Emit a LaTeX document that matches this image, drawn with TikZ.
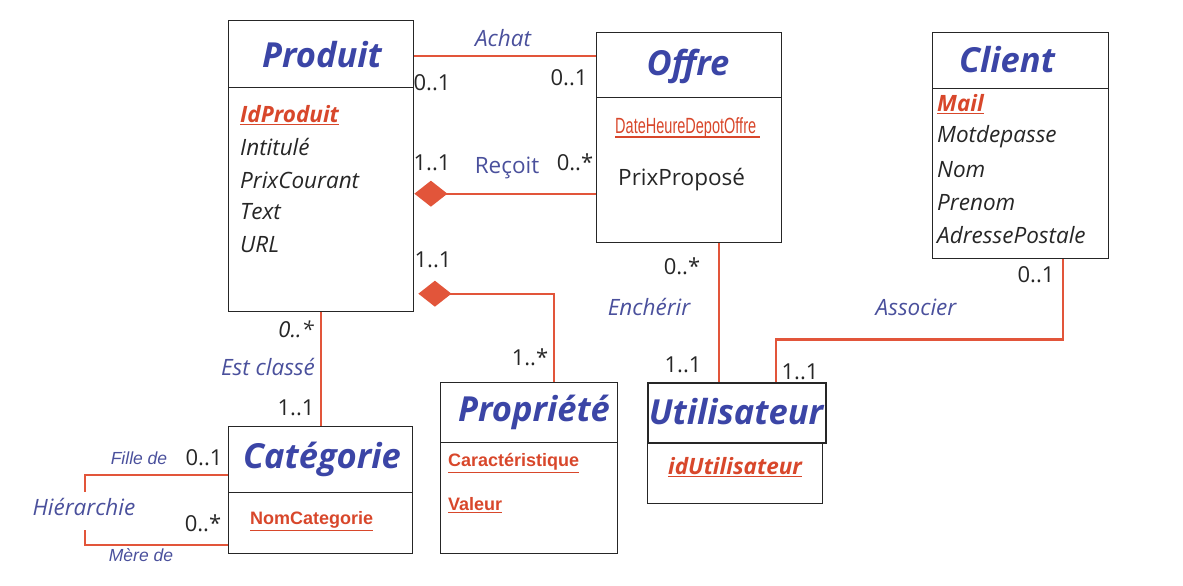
\documentclass[tikz,border=0pt]{standalone}
\usepackage{fontspec}
\setmainfont{Open Sans}
\newfontfamily\arialf{Liberation Sans}
\newfontfamily\narrowf[FakeStretch=0.66]{Liberation Sans}
\usetikzlibrary{arrows.meta}
\definecolor{tblue}{HTML}{3B45A6}
\definecolor{lblue}{HTML}{4A509C}
\definecolor{ared}{HTML}{D8472B}
\definecolor{lred}{HTML}{E2553A}
\newcommand\myThickUl[1]{\setbox0\hbox{#1}\rlap{\raisebox{-4pt}{\rule{\wd0}{1.8pt}}}\box0}
\tikzset{
  cbox/.style={draw=black!85, line width=1.4pt, inner sep=0pt, anchor=north west},
  ttl/.style={font=\fontsize{34.5}{40}\selectfont\bfseries\itshape, text=tblue, inner sep=0pt},
  attr/.style={font=\fontsize{22.5}{26}\selectfont\itshape, text=black!85, anchor=west, inner sep=0pt},
  keyattr/.style={font=\fontsize{22.5}{26}\selectfont\bfseries\itshape, text=ared, anchor=west, inner sep=0pt},
  arialkey/.style={font=\arialf\fontsize{18}{21}\selectfont\bfseries, text=ared, anchor=west, inner sep=0pt},
  rel/.style={draw=lred, line width=2.2pt},
  mult/.style={font=\fontsize{22}{26}\selectfont, text=black!85, inner sep=0pt},
  lab/.style={font=\fontsize{22.5}{26}\selectfont\itshape, text=lblue, inner sep=0pt},
  smalllab/.style={font=\arialf\fontsize{17.5}{20}\selectfont\itshape, text=lblue, inner sep=0pt},
  dia/.style={{Diamond[length=33pt,width=26pt]}-},
}
\begin{document}
\begin{tikzpicture}[x=1pt,y=-1pt]
\useasboundingbox (0,0) rectangle (1183,586);
% ---------- boxes ----------
\node[cbox, minimum width=185pt, minimum height=67pt] (prodH) at (228,20) {};
\node[cbox, minimum width=185pt, minimum height=224pt] (prodB) at (228,87) {};
\node[cbox, minimum width=185pt, minimum height=65pt] (offH) at (596,32) {};
\node[cbox, minimum width=185pt, minimum height=145pt] (offB) at (596,97) {};
\node[cbox, minimum width=176pt, minimum height=56pt] (cliH) at (932,32) {};
\node[cbox, minimum width=176pt, minimum height=170pt] (cliB) at (932,88) {};
\node[cbox, minimum width=184pt, minimum height=66pt] (catH) at (228,426) {};
\node[cbox, minimum width=184pt, minimum height=61pt] (catB) at (228,492) {};
\node[cbox, minimum width=177pt, minimum height=60pt] (propH) at (440,382) {};
\node[cbox, minimum width=177pt, minimum height=111pt] (propB) at (440,442) {};
\node[cbox, minimum width=175pt, minimum height=61pt] (utiB) at (647,442) {};
\node[cbox, line width=2.2pt, minimum width=178pt, minimum height=60pt] (utiH) at (647,382) {};
% ---------- titles ----------
\node[ttl] (tProd) at (322,55) {Produit};
\node[ttl] (tOff) at (688,66) {Offre};
\node[ttl] (tCli) at (1007,60) {Client};
\node[ttl] (tCat) at (322,459) {Catégorie};
\node[ttl] (tProp) at (534,412) {Propriété};
\node[ttl] (tUti) at (736,412) {Utilisateur};
% ---------- attributes ----------
\node[keyattr] (pa1) at (240,115) {\underline{IdProduit}};
\node[attr] (pa2) at (240,147) {Intitulé};
\node[attr] (pa3) at (240,180) {PrixCourant};
\node[attr] (pa4) at (240,212) {Text};
\node[attr] (pa5) at (240,245) {URL};
\node[font=\narrowf\fontsize{22}{26}\selectfont, text=ared, anchor=west, inner sep=0pt] (oa1) at (615,128) {\myThickUl{DateHeureDepotOffre\,}};
\node[font=\fontsize{22.5}{26}\selectfont, text=black!85, anchor=west, inner sep=0pt] (oa2) at (618,180) {PrixProposé};
\node[keyattr] (ca1) at (937,104) {\underline{Mail}};
\node[attr] (ca2) at (937,137) {Motdepasse};
\node[attr] (ca3) at (937,170) {Nom};
\node[attr] (ca4) at (937,203) {Prenom};
\node[attr] (ca5) at (937,235) {AdressePostale};
\node[arialkey] (ga1) at (250,521) {\underline{NomCategorie}};
\node[arialkey] (ra1) at (448,463) {\underline{Caractéristique}};
\node[arialkey] (ra2) at (448,505) {\underline{Valeur}};
\node[keyattr, anchor=center] (ua1) at (735,467) {\underline{idUtilisateur}};
% ---------- relations ----------
\coordinate (a1) at ([yshift=-1.5pt]prodH.east);
\draw[rel] (a1) -- (a1 -| offH.west);
\coordinate (r1) at ([yshift=6pt]prodB.east);
\draw[rel, dia] (r1) -- (r1 -| offB.west);
\draw[rel, dia] ([xshift=4pt,yshift=-94pt]prodB.east) -| ([xshift=24.5pt]propH.north);
\draw[rel] (prodB.south) -- (prodB.south |- catH.north);
\coordinate (e1) at ([xshift=-18.5pt]utiH.north);
\draw[rel] (e1) -- (e1 |- offB.south);
\draw[rel] ([xshift=38.5pt]utiH.north) |- ([xshift=42pt,yshift=-80pt]cliB.south) -- ([xshift=42pt]cliB.south);
\coordinate (h1) at ([yshift=-15pt]catH.west);
\coordinate (hA) at (85,492);
\coordinate (hB) at (85,530);
\coordinate (h3) at ([yshift=-21.5pt]catB.west);
\draw[rel] (h1) -| (hA);
\draw[rel] (hB) |- (h3);
% ---------- labels ----------
\node[lab] (lAchat) at (503,38) {Achat};
\node[mult] (m1) at (432,83) {0..1};
\node[mult] (m2) at (569,78) {0..1};
\node[mult] (m3) at (432,163) {1..1};
\node[lab, font=\fontsize{22.5}{26}\selectfont] (lRecoit) at (507,168) {Reçoit};
\node[mult] (m4) at (575,162) {0..*};
\node[mult] (m5) at (433,260) {1..1};
\node[mult] (m6) at (530,357) {1..*};
\node[mult, font=\fontsize{22}{26}\selectfont\itshape] (m7) at (296,329) {0..*};
\node[lab] (lEst) at (268,367) {Est classé};
\node[mult] (m8) at (296,408) {1..1};
\node[smalllab] (lFille) at (139,458) {Fille de};
\node[mult] (m9) at (204,458) {0..1};
\node[lab] (lHier) at (84,507) {Hiérarchie};
\node[mult] (m10) at (203,523) {0..*};
\node[smalllab] (lMere) at (141,555) {Mère de};
\node[mult] (m11) at (682,266) {0..*};
\node[lab] (lEnch) at (649,307) {Enchérir};
\node[mult] (m12) at (683,365) {1..1};
\node[mult] (m13) at (800,372) {1..1};
\node[lab] (lAss) at (916,307) {Associer};
\node[mult] (m14) at (1036,275) {0..1};
\end{tikzpicture}
\end{document}
